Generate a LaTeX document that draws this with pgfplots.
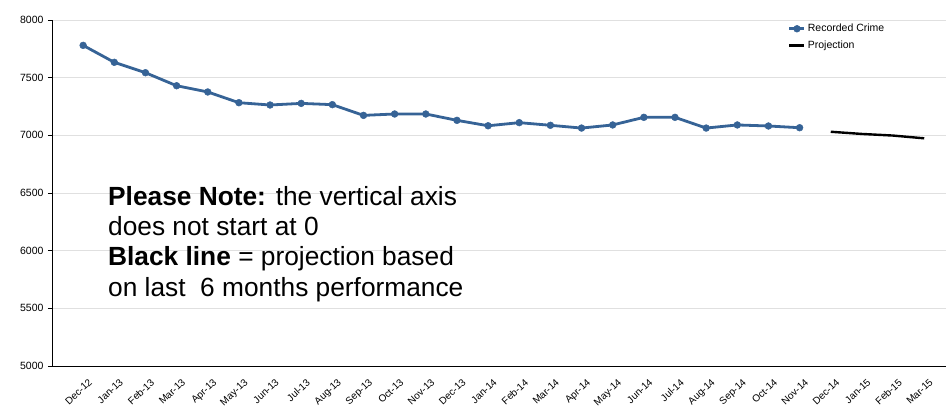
\documentclass[border=0pt]{standalone}
\usepackage{pgfplots}
\pgfplotsset{compat=1.18}
\usepackage{fontspec}
\setmainfont{Liberation Sans}
\definecolor{crime}{RGB}{54,99,150}
\definecolor{gridc}{RGB}{224,224,224}
\pgfplotstableread{
x y
0 7780
1 7633
2 7543
3 7430
4 7376
5 7283
6 7263
7 7277
8 7266
9 7173
10 7185
11 7185
12 7130
13 7083
14 7110
15 7087
16 7063
17 7090
18 7156
19 7156
20 7063
21 7090
22 7081
23 7066
}\crime
\pgfplotstableread{
x y
24 7031
25 7012
26 6998
27 6974
}\proj
\begin{document}
\begin{tikzpicture}
\begin{axis}[
  scale only axis, width=894bp, height=346bp,
  xmin=-1, xmax=27.7, ymin=5000, ymax=8000,
  axis x line*=bottom, axis y line*=left,
  axis line style={black, line width=0.8bp},
  ytick={5000,5500,...,8000},
  ymajorgrids, grid style={gridc, line width=0.9bp},
  xtick={0,...,27},
  xticklabels={Dec-12,Jan-13,Feb-13,Mar-13,Apr-13,May-13,Jun-13,Jul-13,Aug-13,Sep-13,Oct-13,Nov-13,Dec-13,Jan-14,Feb-14,Mar-14,Apr-14,May-14,Jun-14,Jul-14,Aug-14,Sep-14,Oct-14,Nov-14,Dec-14,Jan-15,Feb-15,Mar-15},
  x tick style={draw=none},
  y tick style={black, line width=0.8bp},
  tick align=outside, major tick length=4bp,
  /pgf/number format/assume math mode=true,
  /pgf/number format/1000 sep={},
  yticklabel style={font=\fontsize{10.5bp}{12bp}\selectfont, xshift=-1bp},
  xticklabel style={font=\fontsize{10bp}{12bp}\selectfont, rotate=43, anchor=north east, inner sep=1bp, xshift=-1bp, yshift=-8bp},
  legend style={at={(axis description cs:0.822,0.997)}, anchor=north west, draw=none, fill=none,
     font=\fontsize{10.5bp}{12bp}\selectfont, row sep=3.5bp, inner sep=1bp},
  legend cell align=left,
  legend image code/.code={\draw[mark repeat=2,mark phase=2,#1] plot coordinates {(0bp,0bp) (7.5bp,0bp) (15bp,0bp)};},
  clip=false,
]
\addplot[crime, line width=2.8bp, mark=*, mark size=3.4bp, mark options={fill=crime, draw=crime, line width=0.5bp}] table[x=x,y=y] {\crime};
\addlegendentry{Recorded Crime}
\addplot[black, line width=2.4bp] table[x=x,y=y] {\proj};
\addlegendentry{Projection}
\node[anchor=north west, align=left, inner sep=0pt, font=\fontsize{26.3bp}{30.3bp}\selectfont]
  at (axis description cs:0.0626,0.520)
  {\textbf{Please Note:} the vertical axis\\does not start at 0\\\textbf{Black line} = projection based\\on last\ \ 6 months performance};
\end{axis}
\path ([xshift=-52bp,yshift=-53bp]current axis.south west) rectangle ([xshift=5bp,yshift=20bp]current axis.north east);
\end{tikzpicture}
\end{document}
